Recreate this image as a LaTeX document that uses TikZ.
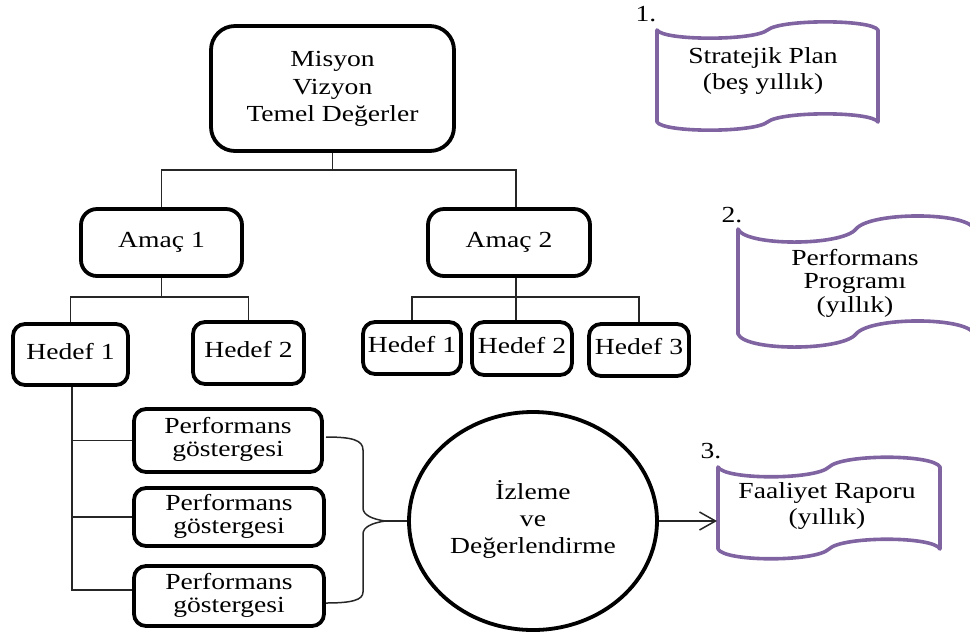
\documentclass[tikz,border=0pt]{standalone}
\usepackage{fontspec}
\setmainfont{Liberation Serif}[FakeStretch=1.2]
\usetikzlibrary{arrows.meta,shapes.geometric}
\definecolor{docpurple}{RGB}{128,100,162}
\newcommand\myraise[2]{\raisebox{#1}{\begin{tabular}{@{}c@{}}#2\end{tabular}}}
\newcommand\docwave[5]{%
 \draw[docline] (#1,#2)
  .. controls ({#1+0.03*(#3-#1)},{#2+1.45*#5}) and ({#1+0.44*(#3-#1)},{#2+1.45*#5}) .. ({#1+0.5*(#3-#1)},#2)
  .. controls ({#1+0.56*(#3-#1)},{#2-1.45*#5}) and ({#3-0.03*(#3-#1)},{#2-1.45*#5}) .. (#3,#2)
  -- (#3,#4)
  .. controls ({#3-0.03*(#3-#1)},{#4-1.45*#5}) and ({#3-0.44*(#3-#1)},{#4-1.45*#5}) .. ({#1+0.5*(#3-#1)},#4)
  .. controls ({#1+0.44*(#3-#1)},{#4+1.45*#5}) and ({#1+0.03*(#3-#1)},{#4+1.45*#5}) .. (#1,#4)
  -- cycle;}
\begin{document}
\begin{tikzpicture}[x=0.5pt,y=-0.5pt,
  box/.style={draw=black,line width=1.9pt,rounded corners=6pt,inner sep=0pt,align=center,
    font=\fontsize{11.5pt}{12pt}\selectfont},
  conn/.style={draw=black!85,line width=0.75pt},
  docline/.style={draw=docpurple,line width=1.8pt,line join=round},
  txt/.style={align=center,inner sep=0pt},
]
\useasboundingbox (0,0) rectangle (970,639);

% top
\node[box,rounded corners=12pt,minimum width=121.5pt,minimum height=62.5pt] (mvt) at (332.5,88.5)
  {\fontsize{11.5pt}{13.75pt}\selectfont\myraise{2pt}{Misyon\\Vizyon\\Temel Değerler}};
\node[box,rounded corners=8pt,minimum width=80.5pt,minimum height=33.5pt] (a1) at (161.5,242.5) {\myraise{2.1pt}{Amaç 1}};
\node[box,rounded corners=8pt,minimum width=81pt,minimum height=33.5pt] (a2) at (509,242.5) {\myraise{2.1pt}{Amaç 2}};

\node[box,minimum width=57.5pt,minimum height=30.5pt] (h1) at (70.5,354.5) {\myraise{1.3pt}{Hedef 1}};
\node[box,minimum width=55.5pt,minimum height=31pt] (h2) at (248.5,353) {\myraise{1.9pt}{Hedef 2}};
\node[box,minimum width=49pt,minimum height=26pt] (h21) at (412,348) {\myraise{-0.7pt}{Hedef 1}};
\node[box,minimum width=50pt,minimum height=26.5pt] (h22) at (522,348.5) {\myraise{-0.5pt}{Hedef 2}};
\node[box,minimum width=50pt,minimum height=26pt] (h23) at (639,350) {\myraise{0pt}{Hedef 3}};

\node[box,minimum width=94pt,minimum height=31.5pt] (pg1) at (228,440.5)
  {\fontsize{11.5pt}{11.5pt}\selectfont\myraise{0pt}{Performans\\göstergesi}};
\node[box,minimum width=95pt,minimum height=29pt] (pg2) at (229,517)
  {\fontsize{11.5pt}{11.5pt}\selectfont\myraise{0pt}{Performans\\göstergesi}};
\node[box,minimum width=95pt,minimum height=30pt] (pg3) at (229,596)
  {\fontsize{11.5pt}{11.5pt}\selectfont\myraise{0pt}{Performans\\göstergesi}};

\node[draw=black,ellipse,line width=1.9pt,minimum width=124pt,minimum height=109pt,inner sep=0pt] (iz) at (533,521)
  {\fontsize{11.5pt}{13.3pt}\selectfont\myraise{5pt}{İzleme\\ve\\Değerlendirme}};

% connectors
\coordinate (y0) at (0,170);
\coordinate (y1) at (0,297);
\draw[conn] (mvt.south) -- (mvt.south |- y0);
\draw[conn] (a1.north) |- (mvt.south |- y0) -| ([xshift=3.5pt]a2.north);
\draw[conn] (a1.south) -- (a1.south |- y1);
\draw[conn] (h1.north) |- (a1.south |- y1) -| (h2.north);
\coordinate (a2s) at ([xshift=3.5pt]a2.south);
\draw[conn] (a2s) -- (a2s |- h22.north);
\draw[conn] (h21.north) |- (a2s |- y1) -| (h23.north);
\coordinate (h1s) at ([xshift=0.75pt]h1.south);
\draw[conn] (h1s) |- (pg1.west);
\draw[conn] (h1s) |- (pg2.west);
\draw[conn] (h1s) |- ([yshift=3pt]pg3.west);

% brace
\coordinate (btip) at (385,521);
\draw[conn] (326,437) .. controls (352,437) and (363,440) .. (363,450) -- (363,508)
  .. controls (363,515) and (372,519) .. (btip)
  .. controls (372,523) and (363,527) .. (363,534) -- (363,592)
  .. controls (363,600) and (352,603) .. (326,603);
\draw[conn] (btip) -- (btip -| iz.west);

% documents
\docwave{657}{30}{878}{122}{7.5}
\begin{scope}
\clip (0,0) rectangle (970,639);
\docwave{738}{229}{974}{334}{12}
\end{scope}
\docwave{718}{467}{940}{549}{9}

\node[txt,font=\fontsize{11.5pt}{13pt}\selectfont] (d1) at (763,71) {\myraise{0pt}{Stratejik Plan\\(beş yıllık)}};
\node[txt,font=\fontsize{11.5pt}{11.7pt}\selectfont] (d2) at (855,284) {\myraise{0pt}{Performans\\Programı\\(yıllık)}};
\node[txt,font=\fontsize{11.5pt}{13.3pt}\selectfont] (d3) at (827,506) {\myraise{0pt}{Faaliyet Raporu\\(yıllık)}};

\node[txt,font=\fontsize{11.5pt}{12pt}\selectfont] (n1) at (646,14) {1.};
\node[txt,font=\fontsize{11.5pt}{12pt}\selectfont] (n2) at (732,215.5) {2.};
\node[txt,font=\fontsize{11.5pt}{12pt}\selectfont] (n3) at (711,451.5) {3.};

\coordinate (d3w) at (717,521);
\draw[conn,-{Straight Barb[length=8pt,width=9pt]}] (iz.east) -- (d3w);
\end{tikzpicture}
\end{document}
